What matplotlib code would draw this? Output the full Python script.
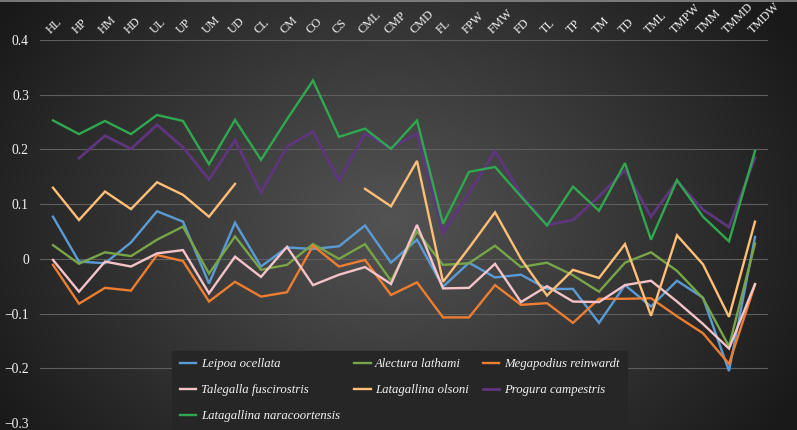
import numpy as np
import matplotlib
matplotlib.use('Agg')
import matplotlib.pyplot as plt
from matplotlib.lines import Line2D

plt.rcParams['font.family'] = ['Liberation Serif', 'DejaVu Serif']

nan = np.nan
cats = ['HL', 'HP', 'HM', 'HD', 'UL', 'UP', 'UM', 'UD', 'CL', 'CM', 'CO', 'CS', 'CML', 'CMP',
        'CMD', 'FL', 'FPW', 'FMW', 'FD', 'TL', 'TP', 'TM', 'TD', 'TML', 'TMPW', 'TMM', 'TMMD', 'TMDW']

leipoa = [0.077, -0.005, -0.008, 0.030, 0.087, 0.068, -0.045, 0.066, -0.014, 0.021, 0.018, 0.023, 0.061, -0.007,
          0.035, -0.051, -0.007, -0.034, -0.029, -0.055, -0.055, -0.117, -0.048, -0.087, -0.040, -0.071, -0.205, 0.040]
alectura = [0.025, -0.009, 0.012, 0.005, 0.035, 0.059, -0.027, 0.041, -0.020, -0.011, 0.027, 0.000, 0.027, -0.040,
            0.050, -0.011, -0.008, 0.024, -0.015, -0.007, -0.030, -0.060, -0.007, 0.012, -0.022, -0.072, -0.160, 0.028]
megapodius = [-0.011, -0.082, -0.053, -0.058, 0.007, -0.004, -0.078, -0.042, -0.069, -0.061, 0.024, -0.014, -0.002, -0.066,
              -0.043, -0.107, -0.107, -0.048, -0.084, -0.081, -0.117, -0.073, -0.073, -0.072, -0.105, -0.136, -0.192, -0.047]
talegalla = [-0.002, -0.060, -0.005, -0.014, 0.010, 0.016, -0.063, 0.004, -0.033, 0.022, -0.048, -0.029, -0.015, -0.046,
             0.062, -0.054, -0.053, -0.009, -0.079, -0.050, -0.078, -0.079, -0.048, -0.040, -0.078, -0.119, -0.164, -0.046]
olsoni = [0.130, 0.071, 0.123, 0.091, 0.140, 0.117, 0.077, 0.137, nan, nan, nan, nan, 0.128, 0.096,
          0.179, -0.042, 0.020, 0.085, 0.000, -0.067, -0.020, -0.035, 0.027, -0.104, 0.043, -0.010, -0.106, 0.068]
progura = [nan, 0.184, 0.225, 0.201, 0.245, 0.204, 0.145, 0.217, 0.121, 0.205, 0.233, 0.143, 0.229, 0.202,
           0.229, 0.047, 0.120, 0.197, 0.118, 0.062, 0.071, 0.114, 0.162, 0.077, 0.142, 0.090, 0.058, 0.185]
naracoortensis = [0.253, 0.228, 0.252, 0.228, 0.263, 0.252, 0.173, 0.254, 0.181, 0.255, 0.326, 0.223, 0.238, 0.201,
                  0.253, 0.064, 0.159, 0.168, 0.114, 0.061, 0.132, 0.088, 0.175, 0.035, 0.144, 0.077, 0.032, 0.197]

names = ['Leipoa ocellata', 'Alectura lathami', 'Megapodius reinwardt', 'Talegalla fuscirostris',
         'Latagallina olsoni', 'Progura campestris', 'Latagallina naracoortensis']
colors = ['#5b9bd5', '#78a548', '#ed7d31', '#f5c3c8', '#ffbf77', '#60357f', '#2fa84f']
series = [leipoa, alectura, megapodius, talegalla, olsoni, progura, naracoortensis]

yticks = [-0.3, -0.2, -0.1, 0, 0.1, 0.2, 0.3, 0.4]
ylabels = ['\u22120.3', '\u22120.2', '\u22120.1', '0', '0.1', '0.2', '0.3', '0.4']

W, H = 797, 430
fig = plt.figure(figsize=(W / 100, H / 100), dpi=100)

# dark radial background
bg = fig.add_axes([0, 0, 1, 1], zorder=-10)
bg.axis('off')
yy, xx = np.mgrid[0:H, 0:W]
t = np.sqrt(((xx - 390) / 460.0) ** 2 + ((yy - 220) / 360.0) ** 2)
t = np.clip(t, 0, 1) ** 1.05
shade = 0x53 + (0x1a - 0x53) * t
img = np.dstack([shade, shade, shade]) / 255.0
bg.imshow(img, extent=[0, 1, 0, 1], aspect='auto', origin='upper')
bg.set_xlim(0, 1)
bg.set_ylim(0, 1)

ax = fig.add_axes([40 / W, 7 / H, 728 / W, 383 / H])
ax.patch.set_alpha(0)
x = np.arange(len(cats))
handles = []
for vals, name, c in zip(series, names, colors):
    lw = 2.0 if name == 'Progura campestris' else 1.7
    h, = ax.plot(x, vals, color=c, lw=lw, label=name, solid_joinstyle='miter')
    handles.append(h)

ax.set_xlim(-0.5, len(cats) - 0.5)
ax.set_ylim(-0.3, 0.4)
ax.set_yticks(yticks)
ax.set_yticklabels(ylabels)
ax.grid(axis='y', color='#5e5e5e', lw=0.8)
ax.set_axisbelow(True)
for s in ax.spines.values():
    s.set_visible(False)

ax.xaxis.tick_top()
ax.set_xticks(x)
ax.set_xticklabels(cats, rotation=45, ha='left', va='bottom', rotation_mode='anchor')
ax.tick_params(axis='x', length=0, pad=3, labelsize=8.8, colors='#f2f2f2')
ax.tick_params(axis='y', length=0, pad=8, labelsize=9.8, colors='#f2f2f2')

# legend rows read left to right like the original
order = [0, 3, 6, 1, 4, 2, 5]
leg = ax.legend([handles[i] for i in order], [names[i] for i in order], ncol=3,
                loc='lower left', bbox_to_anchor=(172 / W, 0), bbox_transform=fig.transFigure,
                borderaxespad=0, frameon=True, fancybox=False, facecolor='#262626', edgecolor='#262626',
                framealpha=1, prop={'style': 'italic', 'size': 9.2}, labelcolor='#f2f2f2',
                handlelength=1.3, handletextpad=0.35, columnspacing=1.1, labelspacing=1.1, borderpad=0.6)

fig.add_artist(Line2D([0, 1], [1 - 1 / H, 1 - 1 / H], transform=fig.transFigure, color='#8a8a8a', lw=1.2))

fig.savefig('out.png', dpi=100)
